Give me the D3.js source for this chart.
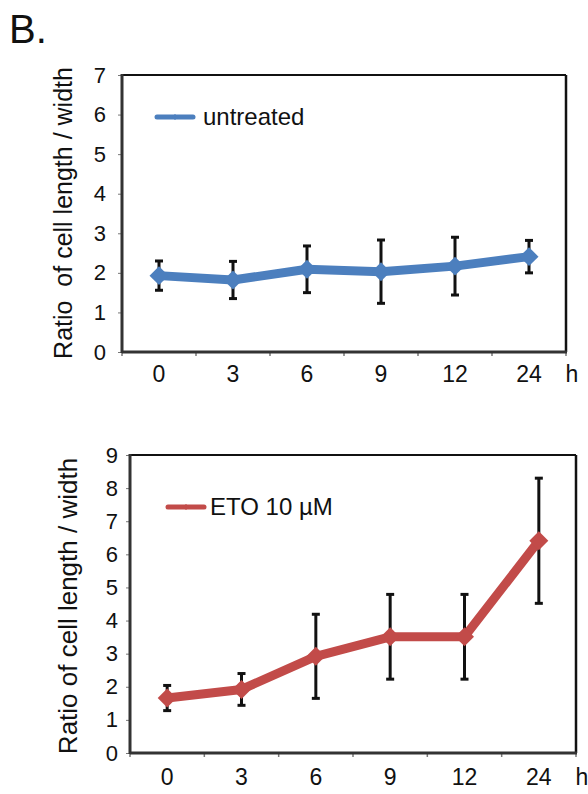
<!DOCTYPE html>
<html>
<head>
<meta charset="utf-8">
<script src="https://cdn.jsdelivr.net/npm/d3@7"></script>
<style>
  body { margin: 0; background: #fff; }
  text { font-family: "Liberation Sans", Arial, sans-serif; fill: #111; }
</style>
</head>
<body>
<script>
// time points (h)
const hours = ['0', '3', '6', '9', '12', '24'];

// untreated
const untreatedMean = [1.93, 1.82, 2.09, 2.03, 2.17, 2.41];
const untreatedErr  = [0.37, 0.47, 0.59, 0.80, 0.73, 0.41];
const untreatedTicks = [0, 1, 2, 3, 4, 5, 6, 7];

// ETO 10 µM
const etoMean = [1.66, 1.92, 2.92, 3.51, 3.51, 6.41];
const etoErr  = [0.38, 0.48, 1.27, 1.28, 1.28, 1.89];
const etoTicks = [0, 1, 2, 3, 4, 5, 6, 7, 8, 9];

const svg = d3.select('body').append('svg').attr('width', 588).attr('height', 794);

svg.append('text').text('B.').attr('x', 9).attr('y', 43).style('font-size', '40px');

function panel(o) {
  const x = d3.scaleBand().domain(hours).range([o.left, o.right]).padding(0);
  const y = d3.scaleLinear().domain([0, d3.max(o.ticks)]).range([o.bottom, o.top]);
  const cx = d => x(d) + x.bandwidth() / 2;
  const g = svg.append('g');

  // y axis ticks + labels
  const yAxisG = g.append('g').attr('transform', `translate(${o.left},0)`)
    .call(d3.axisLeft(y).tickValues(o.ticks).tickSize(4).tickPadding(o.yPad).tickFormat(d3.format('d')));
  yAxisG.select('.domain').remove();
  yAxisG.selectAll('.tick line').attr('stroke', '#777').attr('stroke-width', 1);
  yAxisG.selectAll('.tick text').style('font-size', o.yFont + 'px').attr('fill', '#111');

  // x axis: tick marks at band edges, labels at band centres
  const edges = hours.map(h => x(h)).concat([o.right]);
  g.selectAll('.xt').data(edges).enter().append('line')
    .attr('x1', d => d).attr('x2', d => d)
    .attr('y1', o.bottom).attr('y2', o.bottom + 4)
    .attr('stroke', '#777').attr('stroke-width', 1.5);
  g.selectAll('.xl').data(hours).enter().append('text')
    .text(d => d).attr('x', cx).attr('y', o.bottom + o.xLabDy)
    .attr('text-anchor', 'middle').style('font-size', o.xFont + 'px');
  g.append('text').text('h').attr('x', o.right + 6).attr('y', o.bottom + o.xLabDy)
    .attr('text-anchor', 'middle').style('font-size', o.xFont + 'px');

  // plot border
  g.append('line').attr('x1', o.left).attr('x2', o.right).attr('y1', o.top).attr('y2', o.top)
    .attr('stroke', '#111').attr('stroke-width', 2);
  g.append('line').attr('x1', o.right).attr('x2', o.right).attr('y1', o.top).attr('y2', o.bottom)
    .attr('stroke', '#111').attr('stroke-width', 2.5);
  g.append('line').attr('x1', o.left).attr('x2', o.left).attr('y1', o.top - 1).attr('y2', o.bottom + 1)
    .attr('stroke', '#333').attr('stroke-width', 3);
  g.append('line').attr('x1', o.left).attr('x2', o.right + 1).attr('y1', o.bottom).attr('y2', o.bottom)
    .attr('stroke', '#333').attr('stroke-width', 3);

  // y title
  g.append('text').text(o.yTitle)
    .attr('transform', `translate(${o.titleX},${o.titleY}) rotate(-90)`)
    .attr('text-anchor', 'middle').attr('dominant-baseline', 'middle')
    .attr('xml:space', 'preserve').style('white-space', 'pre')
    .style('font-size', o.titleFont + 'px');

  // error bars (behind the line)
  const eb = g.selectAll('.eb').data(hours).enter().append('g');
  eb.append('line').attr('x1', cx).attr('x2', cx)
    .attr('y1', (d, i) => y(o.mean[i] + o.err[i])).attr('y2', (d, i) => y(o.mean[i] - o.err[i]))
    .attr('stroke', '#111').attr('stroke-width', 3);
  [1, -1].forEach(s => {
    eb.append('line').attr('x1', d => cx(d) - 4).attr('x2', d => cx(d) + 4)
      .attr('y1', (d, i) => y(o.mean[i] + s * o.err[i])).attr('y2', (d, i) => y(o.mean[i] + s * o.err[i]))
      .attr('stroke', '#111').attr('stroke-width', 3);
  });

  // series line
  const line = d3.line().x(d => cx(d[0])).y(d => y(d[1]));
  g.append('path').datum(hours.map((h, i) => [h, o.mean[i]]))
    .attr('d', line).attr('fill', 'none').attr('stroke', o.color)
    .attr('stroke-width', 9).attr('stroke-linejoin', 'round');
  const sym = d3.symbol().type(d3.symbolSquare).size(180);
  g.selectAll('.mk').data(hours).enter().append('path')
    .attr('d', sym)
    .attr('transform', (d, i) => `translate(${cx(d)},${y(o.mean[i])}) rotate(45)`)
    .attr('fill', o.color);

  // legend
  g.append('line').attr('x1', o.legX).attr('x2', o.legX + 36).attr('y1', o.legY).attr('y2', o.legY)
    .attr('stroke', o.color).attr('stroke-width', 5).attr('stroke-linecap', 'round');
  g.append('path').attr('d', d3.symbol().type(d3.symbolSquare).size(18))
    .attr('transform', `translate(${o.legX + 18},${o.legY}) rotate(45)`).attr('fill', o.color);
  g.append('text').text(o.label).attr('x', o.legX + o.legTextDx).attr('y', o.legY + 8)
    .style('font-size', '24px');
}

panel({
  top: 75, bottom: 352, left: 122, right: 566,
  ticks: untreatedTicks, mean: untreatedMean, err: untreatedErr,
  color: '#4c7fbe', label: 'untreated',
  yPad: 12, yFont: 22, xFont: 23, xLabDy: 30,
  yTitle: 'Ratio  of cell length / width', titleX: 65, titleY: 213, titleFont: 25,
  legX: 157, legY: 117, legTextDx: 46
});

panel({
  top: 455, bottom: 753, left: 130, right: 576,
  ticks: etoTicks, mean: etoMean, err: etoErr,
  color: '#c24b49', label: 'ETO 10 µM',
  yPad: 8, yFont: 22, xFont: 23, xLabDy: 32,
  yTitle: 'Ratio of cell length / width', titleX: 70, titleY: 606, titleFont: 26,
  legX: 168, legY: 507, legTextDx: 42
});
</script>
</body>
</html>
